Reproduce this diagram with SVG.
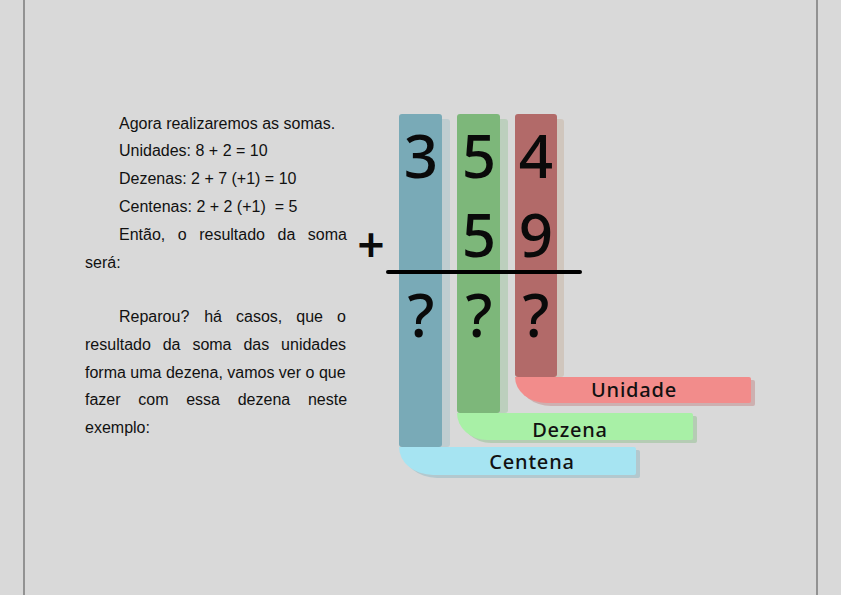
<svg xmlns="http://www.w3.org/2000/svg" width="841" height="595" viewBox="0 0 841 595">
<style>
.body{font-family:"Liberation Sans",Arial,sans-serif;font-size:16px;fill:#111;white-space:pre}
.digit{font-family:"Noto Sans","DejaVu Sans",sans-serif;font-size:60px;font-weight:500;fill:#0a0a0a;text-anchor:middle}
.label{font-family:"Noto Sans","DejaVu Sans",sans-serif;font-size:20px;font-weight:500;letter-spacing:0.8px;fill:#111;text-anchor:middle}
.border{stroke:#7a7a7a;stroke-width:1.5}
</style>
<rect width="841" height="595" fill="#d9d9d9"/>
<line class="border" x1="24" y1="0" x2="24" y2="595"/>
<line class="border" x1="817" y1="0" x2="817" y2="595"/>

<g id="text">
<text class="body" x="119" y="129">Agora realizaremos as somas.</text>
<text class="body" x="119" y="156">Unidades: 8 + 2 = 10</text>
<text class="body" x="119" y="184">Dezenas: 2 + 7 (+1) = 10</text>
<text class="body" x="119" y="212">Centenas: 2 + 2 (+1)  = 5</text>
<text class="body" y="240"><tspan x="119">Então,</tspan><tspan x="177.8">o</tspan><tspan x="199.2">resultado</tspan><tspan x="277.5">da</tspan><tspan x="307.8">soma</tspan></text>
<text class="body" x="85" y="268">será:</text>
<text class="body" y="322"><tspan x="119">Reparou?</tspan><tspan x="204.2">há</tspan><tspan x="236">casos,</tspan><tspan x="296.3">que</tspan><tspan x="337.1">o</tspan></text>
<text class="body" y="350"><tspan x="85">resultado</tspan><tspan x="162.7">da</tspan><tspan x="192.4">soma</tspan><tspan x="243.4">das</tspan><tspan x="281.1">unidades</tspan></text>
<text class="body" x="85" y="378">forma uma dezena, vamos ver o que</text>
<text class="body" y="405"><tspan x="85">fazer</tspan><tspan x="138.3">com</tspan><tspan x="186.2">essa</tspan><tspan x="237.7">dezena</tspan><tspan x="307.9">neste</tspan></text>
<text class="body" x="85" y="433">exemplo:</text>
</g>

<g id="centena">
<rect x="407" y="119" width="43" height="328" rx="3" fill="#bfcdd0"/>
<rect x="399" y="114" width="43" height="333" rx="3" fill="#79aab7"/>
<path d="M403,450 H638 a2,2 0 0 1 2,2 V476 a2,2 0 0 1 -2,2 H437 A34 28 0 0 1 403 450 Z" fill="#b3c8ce"/>
<path d="M399,447 H634 a2,2 0 0 1 2,2 V473 a2,2 0 0 1 -2,2 H433 A34 28 0 0 1 399 447 Z" fill="#a6e4f2"/>
<text class="label" x="532" y="469">Centena</text>
</g>

<g id="dezena">
<rect x="465" y="119" width="43" height="294" rx="3" fill="#bccfbd"/>
<rect x="457" y="114" width="43" height="299" rx="3" fill="#7db77a"/>
<path d="M461,416 H695 a2,2 0 0 1 2,2 V441 a2,2 0 0 1 -2,2 H491 A30 27 0 0 1 461 416 Z" fill="#b5ccb4"/>
<path d="M457,413 H691 a2,2 0 0 1 2,2 V438 a2,2 0 0 1 -2,2 H487 A30 27 0 0 1 457 413 Z" fill="#a8f0a6"/>
<text class="label" x="570" y="437">Dezena</text>
</g>

<g id="unidade">
<rect x="522" y="119" width="42" height="258" rx="3" fill="#d0c6bd"/>
<rect x="515" y="114" width="42" height="263" rx="3" fill="#b26a69"/>
<path d="M519,380 H753 a2,2 0 0 1 2,2 V404 a2,2 0 0 1 -2,2 H551 A32 26 0 0 1 519 380 Z" fill="#cdb0b0"/>
<path d="M515,377 H749 a2,2 0 0 1 2,2 V401 a2,2 0 0 1 -2,2 H547 A32 26 0 0 1 515 377 Z" fill="#f28c8b"/>
<text class="label" x="634" y="397">Unidade</text>
</g>

<g id="digits">
<text class="digit" x="421" y="178">3</text>
<text class="digit" x="479" y="178">5</text>
<text class="digit" x="536" y="178">4</text>
<text class="digit" x="479" y="257">5</text>
<text class="digit" x="536" y="257">9</text>
<text class="digit" x="421" y="337">?</text>
<text class="digit" x="479" y="337">?</text>
<text class="digit" x="536" y="337">?</text>
<text class="digit" x="371" y="262" style="font-size:48px;font-weight:600">+</text>
</g>

<g id="connectors">
<line x1="388" y1="272" x2="580" y2="272" stroke="#000" stroke-width="4" stroke-linecap="round"/>
</g>
</svg>
